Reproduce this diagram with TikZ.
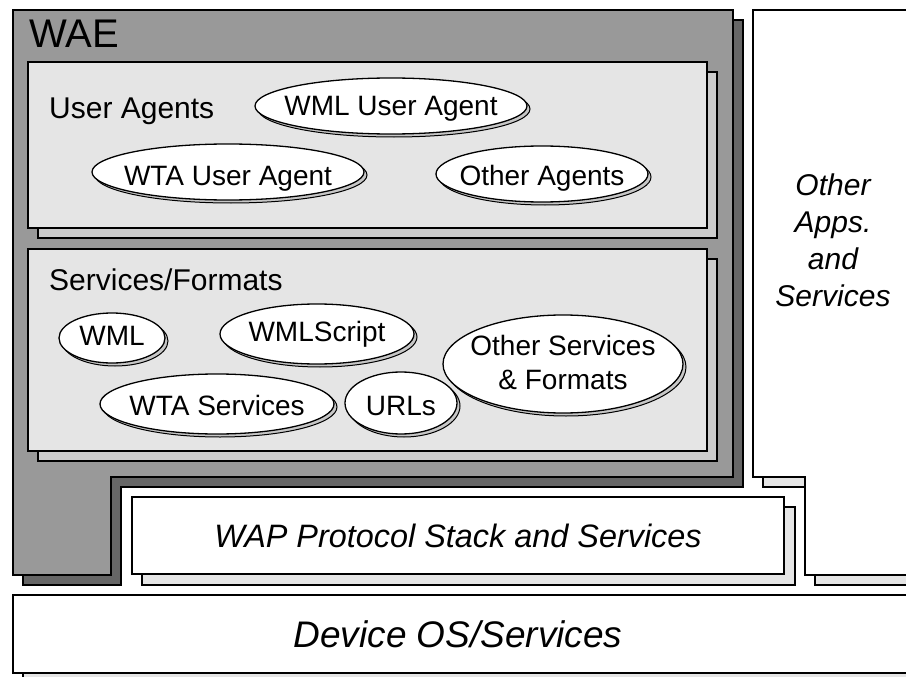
\documentclass[tikz,border=0pt]{standalone}
\usepackage{fontspec}
\setmainfont{Liberation Sans}
\definecolor{waefill}{gray}{0.6}
\definecolor{waeshadow}{gray}{0.4}
\definecolor{lightbox}{gray}{0.9}
\definecolor{lightshadow}{gray}{0.8}
\definecolor{ellshadow}{gray}{0.78}
% #1 name, #2 cx, #3 cy, #4 rx, #5 ry, #6 baseline y, #7 text
\newcommand{\myell}[7]{%
  \fill[ellshadow, draw=black, line width=1pt] (#2+3,#3+3) ellipse [x radius=#4, y radius=#5];
  \draw[ellline] (#2,#3) ellipse [x radius=#4, y radius=#5];
  \node[elltext, anchor=base] (#1) at (#2,#6) {#7};}
\begin{document}
\begin{tikzpicture}[x=1pt,y=-1pt,
  box/.style={draw=black, line width=1.6pt, line join=miter},
  ellline/.style={draw=black, line width=1.3pt, fill=white},
  elltext/.style={inner sep=0pt, align=center, font=\fontsize{28}{34}\selectfont},
  lbl/.style={inner sep=0pt, anchor=base west, font=\fontsize{30}{34}\selectfont},
  ital/.style={inner sep=0pt, align=center}]
\useasboundingbox (0,0) rectangle (906,677);
\fill[white] (0,0) rectangle (906,677);

% Device OS / Services
\draw[box, fill=lightbox] (23,605) rectangle (925,690);
\draw[box, fill=white] (13,595) rectangle (920,673);
\node[ital, font=\fontsize{37}{40}\selectfont\itshape] (dev) at (458,634) {Device OS/Services};

% Other Apps and Services
\draw[box, fill=lightbox, shift={(10,10)}] (753,10) -- (920,10) -- (920,575) -- (805,575) -- (805,477) -- (753,477) -- cycle;
\draw[box, fill=white] (753,10) -- (920,10) -- (920,575) -- (805,575) -- (805,477) -- (753,477) -- cycle;
\node[ital, font=\fontsize{30}{37}\selectfont\itshape] (oth) at (833,240) {Other\\Apps.\\and\\Services};

% WAP Protocol Stack
\draw[box, fill=lightbox] (142,507) rectangle (795,585);
\draw[box, fill=white] (132,497) rectangle (784,574);
\node[ital, font=\fontsize{32.4}{37}\selectfont\itshape] (wap) at (458,536) {WAP Protocol Stack and Services};

% WAE
\draw[box, fill=waeshadow, shift={(10,10)}] (13,10) -- (733,10) -- (733,477) -- (111,477) -- (111,575) -- (13,575) -- cycle;
\draw[box, fill=waefill] (13,10) -- (733,10) -- (733,477) -- (111,477) -- (111,575) -- (13,575) -- cycle;
\node[lbl, font=\fontsize{40}{44}\selectfont] (wae) at (29,48) {WAE};

% User Agents box
\draw[box, fill=lightshadow] (38,72) rectangle (717,238);
\draw[box, fill=lightbox] (28,62) rectangle (707,228);
\node[lbl] (ua) at (49,118) {User Agents};

% Services/Formats box
\draw[box, fill=lightshadow] (38,259) rectangle (717,461);
\draw[box, fill=lightbox] (28,249) rectangle (707,451);
\node[lbl] (sf) at (49,290) {Services/Formats};

% Ellipses
\myell{wmlua}{391}{106}{136}{28}{115}{WML User Agent}
\myell{wtaua}{228}{172}{136}{28}{185}{WTA User Agent}
\myell{othag}{542}{174}{106}{28}{185}{Other Agents}
\myell{wml}{112}{338}{53}{25}{345}{WML}
\myell{wmls}{317}{334}{97}{30}{341}{WMLScript}
\myell{wtas}{217}{404}{117}{30}{415}{WTA Services}
\myell{urls}{401}{403}{56}{31}{415}{URLs}
\fill[ellshadow, draw=black, line width=1pt] (566,367) ellipse [x radius=120, y radius=49];
\draw[ellline] (563,364) ellipse [x radius=120, y radius=49];
\node[elltext] (oths) at (563,362) {Other Services\\\& Formats};
\end{tikzpicture}
\end{document}
